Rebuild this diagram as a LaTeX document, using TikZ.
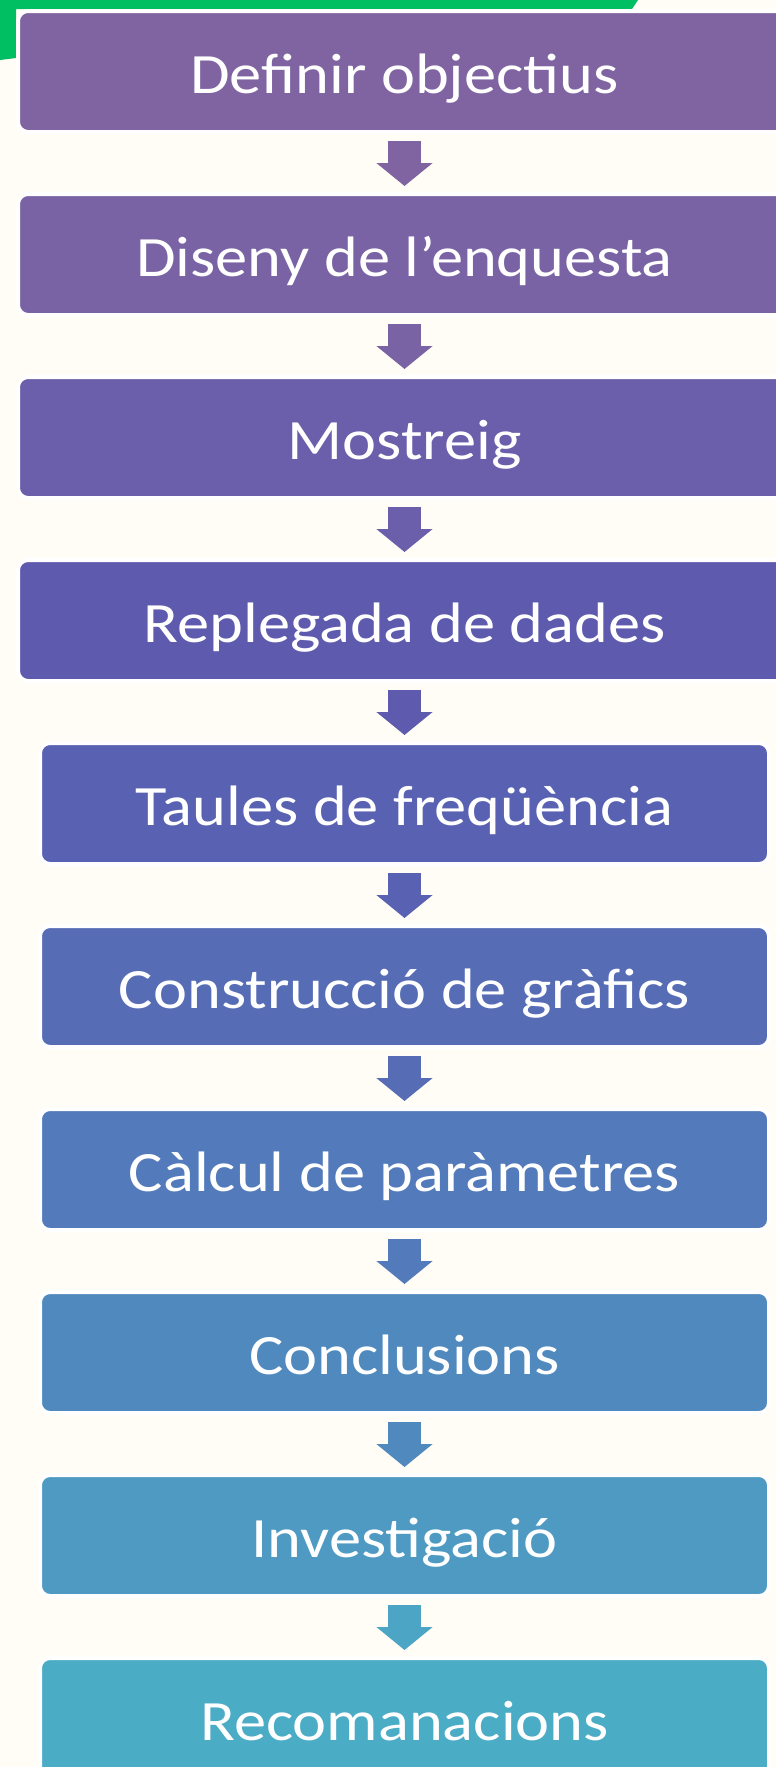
\documentclass[tikz,border=0pt]{standalone}
\usepackage{fontspec}
\setmainfont{Carlito}[FakeStretch=1.13]
\usepackage{xcolor}
\usepackage{tikz}
\usetikzlibrary{arrows.meta}
\definecolor{paper}{HTML}{FFFDF6}
\definecolor{leaf}{HTML}{00BF63}
\definecolor{c0}{RGB}{128,100,162}
\definecolor{c1}{RGB}{122,99,164}
\definecolor{c2}{RGB}{107,94,170}
\definecolor{c3}{RGB}{94,91,174}
\definecolor{c4}{RGB}{89,98,178}
\definecolor{c5}{RGB}{86,109,182}
\definecolor{c6}{RGB}{83,122,186}
\definecolor{c7}{RGB}{80,137,190}
\definecolor{c8}{RGB}{78,154,194}
\definecolor{c9}{RGB}{75,172,198}
\tikzset{
  stepbox/.style={rectangle, rounded corners=10pt, draw=white, line width=4pt,
    inner sep=0pt, outer sep=0pt, minimum height=121pt, text=white,
    font=\fontsize{57}{60}\selectfont, text height=43pt, text depth=0pt},
  wide/.style={stepbox, minimum width=773pt},
  narrow/.style={stepbox, minimum width=729pt},
  flow/.style={line width=33pt, -{Triangle[length=23pt,width=55pt]},
    shorten <=9pt, shorten >=8pt}
}

\begin{document}
\begin{tikzpicture}[x=1pt,y=-1pt]
% page
\fill[paper] (0,0) rectangle (776,1767);
\useasboundingbox (0,0) rectangle (776,1767);
% green corner
\fill[leaf] (0,0) -- (638,0) -- (632,9) -- (16,9) -- (16,58) -- (0,60) -- cycle;

% steps
\node[wide, fill=c0] (objectius) at (404.5,71.5) {Definir objectius};
\node[wide, fill=c1] (disseny) at (404.5,254.5) {Diseny de l’enquesta};
\node[wide, fill=c2] (mostreig) at (404.5,437.5) {Mostreig};
\node[wide, fill=c3] (dades) at (404.5,620.5) {Replegada de dades};
\node[narrow, fill=c4] (taules) at (404.5,803.5) {Taules de freqüència};
\node[narrow, fill=c5] (grafics) at (404.5,986.5) {Construcció de gràfics};
\node[narrow, fill=c6] (parametres) at (404.5,1169.5) {Càlcul de paràmetres};
\node[narrow, fill=c7] (conclusions) at (404.5,1352.5) {Conclusions};
\node[narrow, fill=c8] (investigacio) at (404.5,1535.5) {Investigació};
\node[narrow, fill=c9] (recomanacions) at (404.5,1718.5) {Recomanacions};

% arrows
\draw[flow, c0] (objectius) -- (disseny);
\draw[flow, c1] (disseny) -- (mostreig);
\draw[flow, c2] (mostreig) -- (dades);
\draw[flow, c3] (dades) -- (taules);
\draw[flow, c4] (taules) -- (grafics);
\draw[flow, c5] (grafics) -- (parametres);
\draw[flow, c6] (parametres) -- (conclusions);
\draw[flow, c7] (conclusions) -- (investigacio);
\draw[flow, c9!60!c8] (investigacio) -- (recomanacions);
\end{tikzpicture}
\end{document}
